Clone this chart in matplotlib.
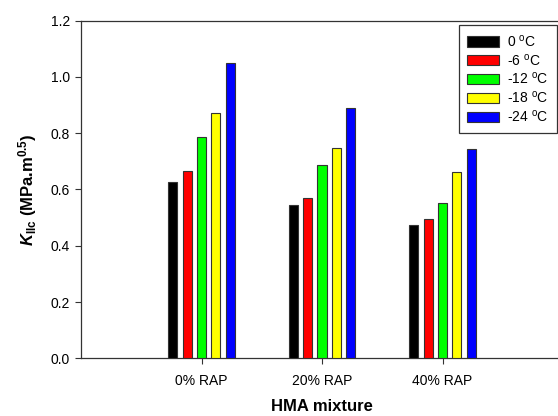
import matplotlib
matplotlib.use("Agg")
import matplotlib.pyplot as plt
import numpy as np

categories = ["0% RAP", "20% RAP", "40% RAP"]
series_labels = [r"0 $^{\mathsf{o}}$C", r"-6 $^{\mathsf{o}}$C", r"-12 $^{\mathsf{o}}$C",
                 r"-18 $^{\mathsf{o}}$C", r"-24 $^{\mathsf{o}}$C"]
values = {
    "0": [0.627, 0.545, 0.474],
    "-6": [0.666, 0.568, 0.494],
    "-12": [0.787, 0.688, 0.553],
    "-18": [0.870, 0.748, 0.661],
    "-24": [1.050, 0.888, 0.744],
}
colors = ["#000000", "#ff0000", "#00ff00", "#ffff00", "#0000ff"]
yticks = [0.0, 0.2, 0.4, 0.6, 0.8, 1.0, 1.2]

plt.rcParams['font.family'] = ['Liberation Sans', 'DejaVu Sans']
plt.rcParams['mathtext.fontset'] = 'custom'
plt.rcParams['mathtext.rm'] = 'Liberation Sans:bold'
plt.rcParams['mathtext.it'] = 'Liberation Sans:italic:bold'
plt.rcParams['mathtext.bf'] = 'Liberation Sans:bold'
plt.rcParams['mathtext.sf'] = 'Liberation Sans'

W, H = 558, 416
fig = plt.figure(figsize=(W / 100, H / 100), dpi=100)
left_px, right_px, top_px, bot_px = 81, 563, 20.5, 358.3
ax = fig.add_axes([left_px / W, 1 - bot_px / H, (right_px - left_px) / W, (bot_px - top_px) / H])

x = np.arange(1, len(categories) + 1)
pitch = 0.12
width = 0.075
for i, (key, col) in enumerate(zip(values, colors)):
    ax.bar(x + (i - 2) * pitch, values[key], width=width, color=col,
           edgecolor="#333333", linewidth=0.8, label=series_labels[i], zorder=3)

ax.set_xlim(0, 4)
ax.set_ylim(0, 1.2)
ax.set_xticks(x)
ax.set_xticklabels(categories, fontsize=10)
ax.set_yticks(yticks)
ax.set_yticklabels([f"{v:.1f}" for v in yticks], fontsize=10)
ax.tick_params(direction="out", length=4, width=0.8, color="#333333", pad=4)
ax.tick_params(axis="x", pad=7)
for s in ax.spines.values():
    s.set_color("#333333")
    s.set_linewidth(0.9)

ax.set_xlabel("HMA mixture", fontsize=12, fontweight="bold", labelpad=8)
ax.set_ylabel(r"$K_{\mathrm{IIc}}$ (MPa.m$^{0.5}$)", fontsize=12, fontweight="bold", labelpad=8)

leg = ax.legend(loc="upper right", bbox_to_anchor=(557 / W, 1 - 25 / H),
                bbox_transform=fig.transFigure, borderaxespad=0, fontsize=10,
                handlelength=2.3, handleheight=0.75, labelspacing=0.2,
                fancybox=False, framealpha=1, edgecolor="#333333",
                borderpad=0.6, handletextpad=0.6)
leg.get_frame().set_linewidth(0.9)

fig.savefig("out.png", dpi=100)
